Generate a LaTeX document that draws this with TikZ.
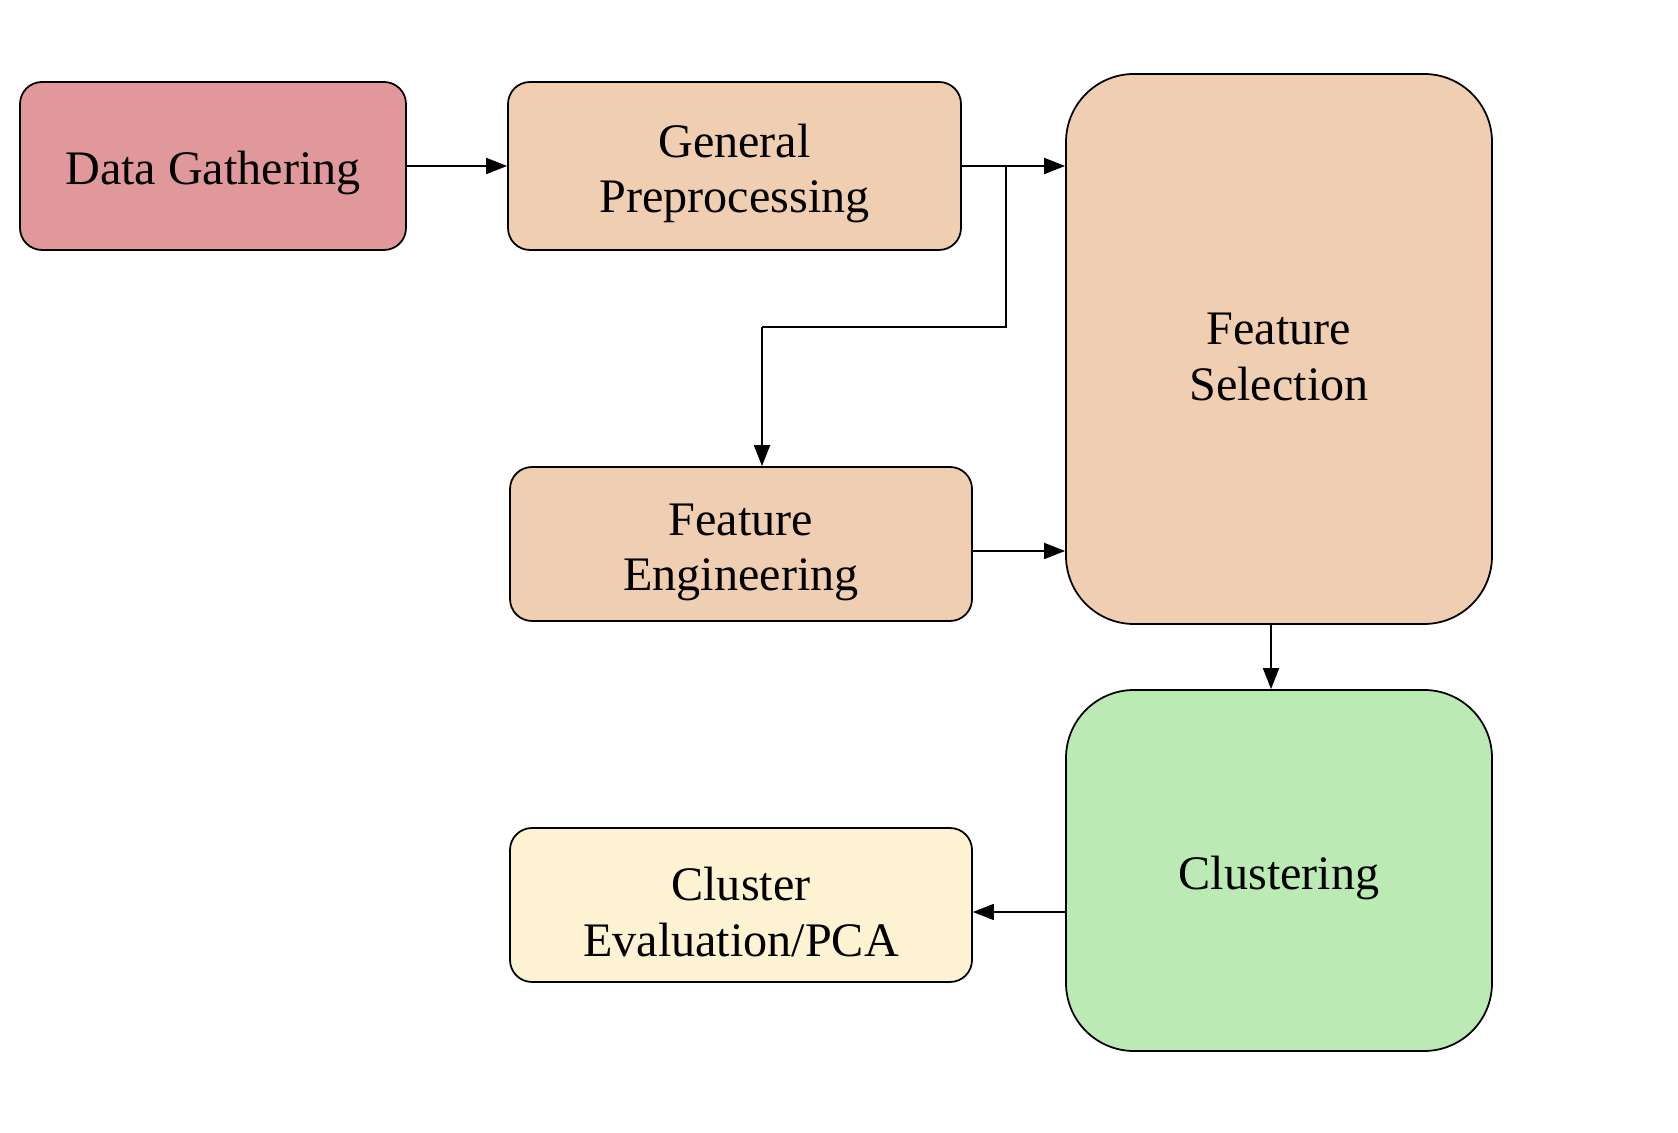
\documentclass[tikz,border=0pt]{standalone}
\usepackage{fontspec}
\setmainfont{Liberation Serif}
\usetikzlibrary{arrows.meta}
\definecolor{gathercol}{HTML}{E0989B}
\definecolor{prepcol}{HTML}{F0CEB1}
\definecolor{clustcol}{HTML}{BBEAB4}
\definecolor{evalcol}{HTML}{FDF2D2}
\newcommand{\stagestrut}{\rule{0pt}{4.8mm}}
\tikzset{
  >={Triangle[length=2.1mm,width=1.6mm]},
}
\tikzstyle{stage}=[draw,line width=0.5pt,rounded corners=2.2mm,align=center,
  inner sep=0pt,font=\fontsize{13.7}{15.8}\selectfont]
\tikzstyle{bigstage}=[stage,rounded corners=6.8mm]
\tikzstyle{flow}=[line width=0.5pt,->]
\begin{document}
\begin{tikzpicture}
    \useasboundingbox (0,0) rectangle (16.78,11.32);
    \node[stage,fill=gathercol,minimum width=3.86cm,minimum height=1.68cm] (gather) at (2.13,9.66) {\stagestrut Data Gathering};
    \node[stage,fill=prepcol,minimum width=4.53cm,minimum height=1.68cm] (prep) at (7.345,9.66) {\stagestrut General\\Preprocessing};
    \node[bigstage,fill=prepcol,minimum width=4.26cm,minimum height=5.50cm] (select) at (12.79,7.83) {\stagestrut Feature\\Selection};
    \node[stage,fill=prepcol,minimum width=4.62cm,minimum height=1.54cm] (engin) at (7.41,5.88) {\stagestrut Feature\\Engineering};
    \node[bigstage,fill=clustcol,minimum width=4.26cm,minimum height=3.61cm] (clust) at (12.79,2.615) {\stagestrut Clustering};
    \node[stage,fill=evalcol,minimum width=4.62cm,minimum height=1.54cm] (eval) at (7.41,2.27) {\stagestrut Cluster\\Evaluation/PCA};
    % connectors
    \coordinate (split) at (10.06,9.66);
    \coordinate (bend) at (7.62,8.05);
    \coordinate (engout) at ([yshift=-0.7mm]engin.east);
    \coordinate (selout) at ([xshift=-0.8mm]select.south);
    \coordinate (evalin) at ([yshift=-0.7mm]eval.east);
    \draw[flow] (gather) -- (prep);
    \draw[flow] (prep.east) -- (prep.east -| select.west);
    \draw[line width=0.5pt] (split) -- (split |- bend) -- (bend);
    \draw[flow] (bend) -- (bend |- engin.north);
    \draw[flow] (engout) -- (engout -| select.west);
    \draw[flow] (selout) -- (selout |- clust.north);
    \draw[flow] (evalin -| clust.west) -- (evalin);
\end{tikzpicture}
\end{document}
